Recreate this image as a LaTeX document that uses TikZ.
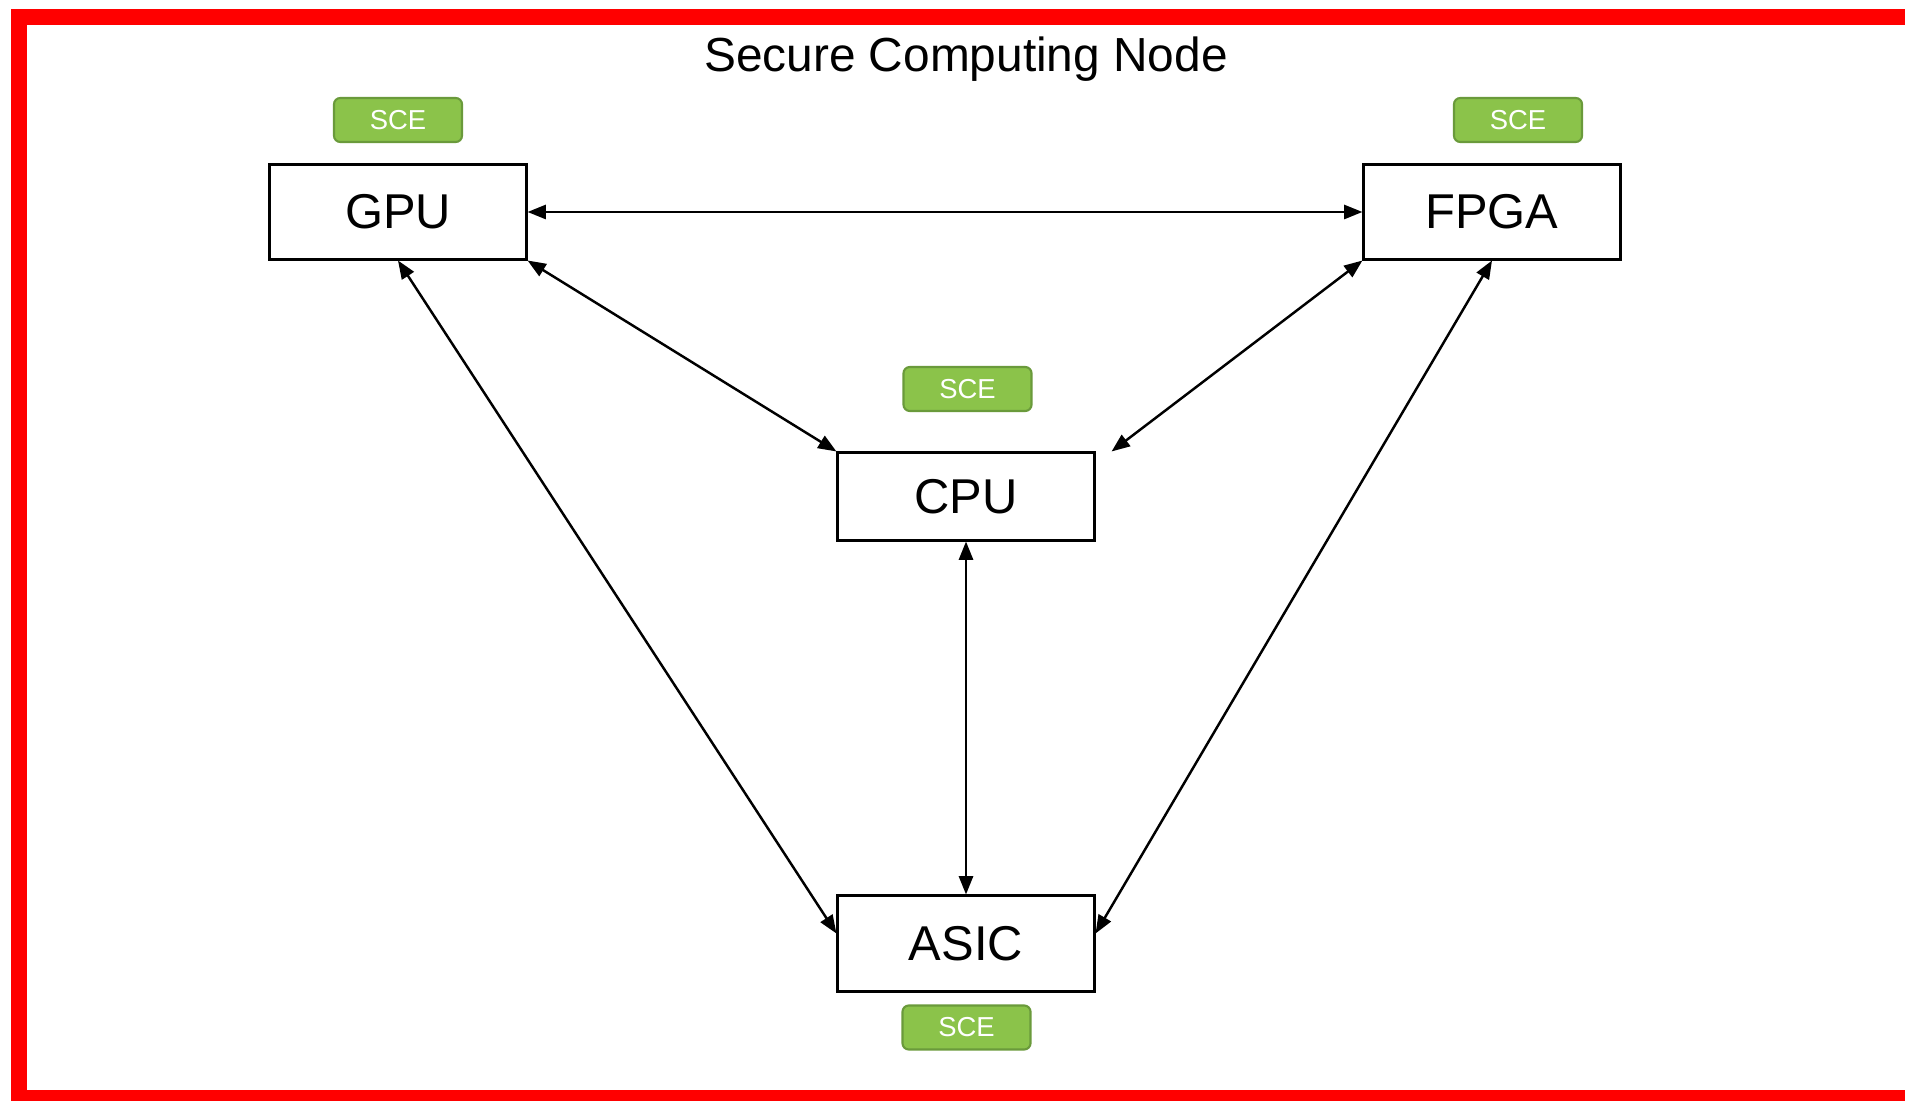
\documentclass[tikz,border=0pt]{standalone}
\usepackage{fontspec}
\setmainfont{Liberation Sans}
\usepackage{tikz}
\usetikzlibrary{arrows.meta}
\definecolor{scegreen}{HTML}{8BC34A}
\definecolor{sceedge}{HTML}{6A9A3B}

\begin{document}
\begin{tikzpicture}[x=0.01cm,y=-0.01cm,
  unit/.style={draw,line width=0.85pt,minimum width=2.56cm,minimum height=0.94cm,inner sep=0pt,font=\fontsize{13.9}{16}\selectfont},
  sce/.style={draw=sceedge,fill=scegreen,rounded corners=1.8pt,line width=0.6pt,minimum width=1.28cm,minimum height=0.44cm,inner sep=0pt,text=white,font=\fontsize{7.8}{9}\selectfont},
  link/.style={<->,>={Triangle[length=5.2pt,width=4pt]},line width=0.7pt}]
\useasboundingbox (0,0) rectangle (1905,1101);
\draw[red,line width=4.55pt] (1930,17) -- (18.7,17) -- (18.7,1098) -- (1930,1098);
\node[anchor=base,font=\fontsize{13.6}{16}\selectfont] (title) at (966,72) {Secure Computing Node};

\node[unit] (gpu) at (398,212) {GPU};
\node[unit] (fpga) at (1492,212) {FPGA};
\node[unit,minimum height=0.87cm] (cpu) at (966,496.5) {CPU};
\node[unit,minimum height=0.95cm] (asic) at (966,943.5) {ASIC};

\node[sce] (gpusce) at (398,120) {SCE};
\node[sce] (fpgasce) at (1518,120) {SCE};
\node[sce] (cpusce) at (967.5,389) {SCE};
\node[sce] (asicsce) at (966.5,1027.5) {SCE};

\draw[link] (gpu) -- (fpga);
\draw[link] (gpu.south east) -- (cpu.north west);
\draw[link] (fpga.south west) -- ([xshift=0.16cm]cpu.north east);
\draw[link] (gpu.south) -- ([yshift=0.1cm]asic.west);
\draw[link] (fpga.south) -- ([yshift=0.1cm]asic.east);
\draw[link] (cpu) -- (asic);
\end{tikzpicture}
\end{document}
